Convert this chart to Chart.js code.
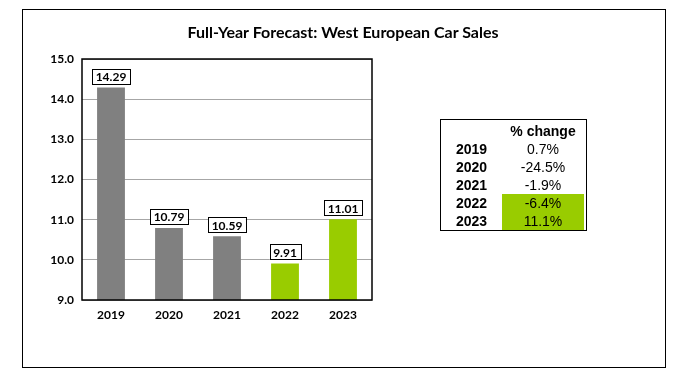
<!DOCTYPE html>
<html>
<head>
<meta charset="utf-8">
<script src="https://cdn.jsdelivr.net/npm/chart.js@4.4.0/dist/chart.umd.min.js"></script>
<style>
  body { margin: 0; background: #fff; }
  #wrap { position: relative; width: 685px; height: 375px; }
  #frame { position: absolute; left: 22px; top: 9px; width: 642px; height: 357px; border: 1.5px solid #000; }
  #title { position: absolute; left: 0; width: 686px; top: 22px; text-align: center;
           font: bold 16px Lato, "Open Sans", sans-serif; color: #000; }
  #tbl { position: absolute; left: 440px; top: 119px; width: 145px; height: 110px; border: 1px solid #000;
         font: 14px "Liberation Sans", Arial, sans-serif; color: #000; }
  #tbl table { border-collapse: collapse; margin-top: 2px; }
  #tbl td { height: 18px; padding: 0; line-height: 18px; }
  #tbl td.y { width: 61px; text-align: center; font-weight: bold; }
  #tbl td.v { width: 82px; text-align: center; }
  #tbl td.g { background: #99cc00; }
</style>
</head>
<body>
<div id="wrap">
  <canvas id="myChart" width="685" height="375"></canvas>
  <div id="frame"></div>
  <div id="title">Full-Year Forecast: West European Car Sales</div>
  <div id="tbl"></div>
</div>
<script>
let years = ['2019', '2020', '2021', '2022', '2023'];
let sales = [14.29, 10.79, 10.59, 9.91, 11.01];
let barColors = ['#808080', '#808080', '#808080', '#99cc00', '#99cc00'];
let pctChange = ['0.7%', '-24.5%', '-1.9%', '-6.4%', '11.1%'];
let pctHighlight = [false, false, false, true, true];

// table on the right
let html = '<table><tr><td class="y"></td><td class="v" style="font-weight:bold">% change</td></tr>';
for (let i = 0; i < years.length; i++) {
  html += '<tr><td class="y">' + years[i] + '</td><td class="v' + (pctHighlight[i] ? ' g' : '') + '">' + pctChange[i] + '</td></tr>';
}
html += '</table>';
document.getElementById('tbl').innerHTML = html;

const labelFont = 'bold 12px Lato, "Open Sans", sans-serif';

const boxLabels = {
  id: 'boxLabels',
  afterDatasetsDraw(chart) {
    const ctx = chart.ctx;
    const meta = chart.getDatasetMeta(0);
    ctx.save();
    ctx.font = labelFont;
    ctx.textAlign = 'center';
    ctx.textBaseline = 'middle';
    meta.data.forEach(function(bar, i) {
      let txt = sales[i].toFixed(2);
      let w = ctx.measureText(txt).width + 7;
      let h = 15;
      let x = bar.x - w / 2;
      let y = bar.y - 4 - h;
      ctx.fillStyle = '#fff';
      ctx.fillRect(x, y, w, h);
      ctx.strokeStyle = '#000';
      ctx.lineWidth = 1;
      ctx.strokeRect(Math.round(x) + 0.5, Math.round(y) + 0.5, Math.round(w), h);
      ctx.fillStyle = '#000';
      ctx.fillText(txt, bar.x, y + h / 2 + 1);
    });
    ctx.restore();
  }
};

const plotBorder = {
  id: 'plotBorder',
  afterDraw(chart) {
    const a = chart.chartArea;
    const ctx = chart.ctx;
    ctx.save();
    ctx.strokeStyle = '#000';
    ctx.lineWidth = 1.5;
    ctx.strokeRect(a.left, a.top, a.right - a.left, a.bottom - a.top);
    ctx.restore();
  }
};

let data = {
  labels: years,
  datasets: [{
    data: sales,
    backgroundColor: barColors,
    borderWidth: 0,
    barPercentage: 0.48,
    categoryPercentage: 1.0
  }]
};

let config = {
  type: 'bar',
  data: data,
  options: {
    responsive: false,
    animation: false,
    layout: { padding: { left: 0, top: 59, right: 313, bottom: 0 } },
    plugins: { legend: { display: false }, title: { display: false }, tooltip: { enabled: false } },
    scales: {
      x: {
        grid: { display: false, drawTicks: false },
        border: { display: false },
        ticks: { color: '#000', font: { family: 'Lato, "Open Sans", sans-serif', size: 12, weight: 'bold' }, padding: 8 },
        afterFit(scale) { scale.height = 75; }
      },
      y: {
        min: 9, max: 15,
        grid: { color: '#a6a6a6', lineWidth: 1, drawTicks: false },
        border: { display: false },
        ticks: {
          stepSize: 1,
          color: '#000',
          padding: 8,
          font: { family: 'Lato, "Open Sans", sans-serif', size: 12, weight: 'bold' },
          callback: function(v) { return Number(v).toFixed(1); }
        },
        afterFit(scale) { scale.width = 82; }
      }
    }
  },
  plugins: [boxLabels, plotBorder]
};

let myChart = new Chart(document.getElementById('myChart'), config);
</script>
</body>
</html>
